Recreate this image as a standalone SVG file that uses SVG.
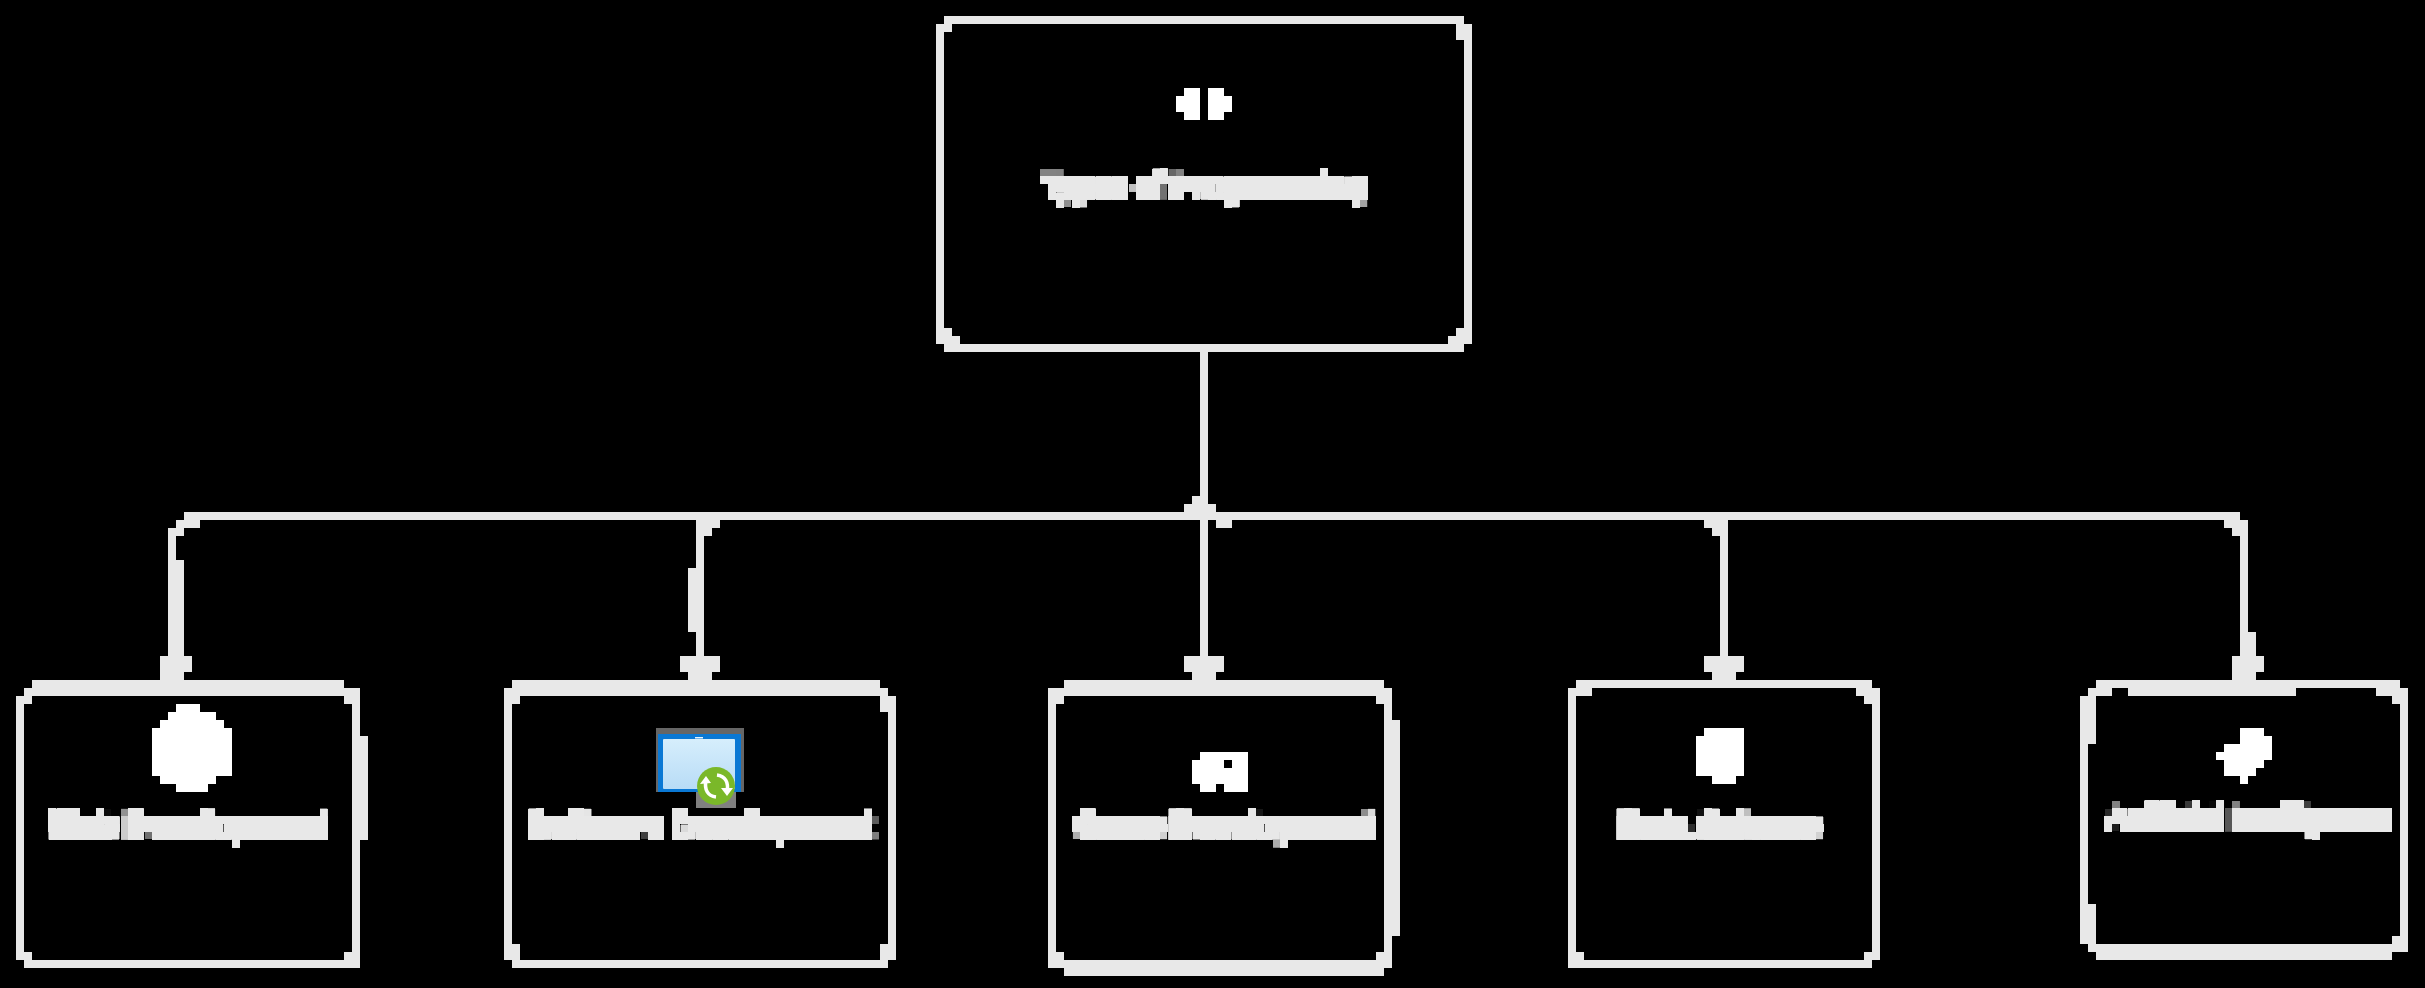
<svg xmlns="http://www.w3.org/2000/svg" width="2425" height="988" viewBox="0 0 2425 988">
<style>
.box,.blk{fill:#e8e8e8;shape-rendering:crispEdges}
.icon{fill:#fff;shape-rendering:crispEdges}
.wire{fill:none;stroke:#e8e8e8;stroke-width:8;shape-rendering:crispEdges}
.lbl{font-family:"Liberation Sans",Arial,sans-serif;font-weight:700;font-size:32px;fill:#e8e8e8;stroke:#e8e8e8;stroke-width:7px;stroke-linejoin:round;text-anchor:middle}
.labels{filter:url(#px)}
</style>
<defs>
<linearGradient id="pane" x1="0" y1="0" x2="0" y2="1"><stop offset="0" stop-color="#d6eefc"/><stop offset="1" stop-color="#b8dcf6"/></linearGradient>
<marker id="hA" markerUnits="userSpaceOnUse" markerWidth="40" markerHeight="24" refX="20" refY="24" orient="0"><path d="M0 0H40V16H32V24H8V16H0Z" fill="#e8e8e8" shape-rendering="crispEdges"/></marker>
<marker id="hB" markerUnits="userSpaceOnUse" markerWidth="32" markerHeight="24" refX="12" refY="24" orient="0"><path d="M0 0H32V16H24V24H0V16H0Z" fill="#e8e8e8" shape-rendering="crispEdges"/></marker>
<filter id="px" filterUnits="userSpaceOnUse" x="0" y="0" width="2425" height="988" primitiveUnits="userSpaceOnUse" color-interpolation-filters="sRGB">
<feFlood x="3" y="3" width="2" height="2" flood-color="#000" result="d"/>
<feComposite in="d" in2="d" x="0" y="0" width="8" height="8" result="c"/>
<feTile in="c" x="0" y="0" width="2425" height="988" result="t"/>
<feComposite in="SourceGraphic" in2="t" operator="in" result="s"/>
<feMorphology in="s" operator="dilate" radius="3"/>
</filter>
</defs>
<rect width="2425" height="988" fill="#000"/>
<g id="connectors">
<path class="wire" d="M172 532V680" marker-end="url(#hB)"/>
<path class="wire" d="M184 516H2240"/>
<path class="wire" d="M700 520V680" marker-end="url(#hA)"/>
<path class="wire" d="M1204 352V680" marker-end="url(#hA)"/>
<path class="wire" d="M1724 520V680" marker-end="url(#hA)"/>
<path class="wire" d="M2244 528V680" marker-end="url(#hB)"/>
<path class="blk" d="M176 520h24v8h-24zM168 528h16v8h-16zM176 560h8v96h-8zM696 520h24v8h-24zM696 528h16v8h-16zM688 568h8v64h-8zM1192 496h16v8h-16zM1184 504h32v8h-32zM1216 520h16v8h-16zM1704 520h24v8h-24zM1712 528h16v8h-16zM2224 520h24v8h-24zM2232 528h16v8h-16zM2248 632h8v24h-8z"/>
</g>
<g id="node-root">
<path class="box" d="M944 16H1464V24H944ZM936 24h8v320h-8zM1464 24h8v320h-8zM944 344H1464V352H944ZM944 24h8v8h-8zM1456 24h8v16h-8zM944 328h8v16h-8zM952 336h8v8h-8zM1456 328h8v16h-8zM1448 336h8v8h-8z"/>
<path class="icon" d="M1176 96h8v16h-8zM1184 88h16v32h-16zM1208 88h16v32h-16zM1224 96h8v16h-8z"/>
</g>
<g id="node-web">
<path class="box" d="M32 680H344V688H32ZM24 688H360V696H24ZM16 696h8v264h-8zM24 696h8v8h-8zM344 696h8v8h-8zM24 952h8v8h-8zM344 952h8v8h-8zM352 696h8v272h-8zM24 960H352V968H24ZM360 736h8v104h-8z"/>
<path class="icon" d="M176 704h24v8h-24zM168 712h48v8h-48zM160 720h64v8h-64zM152 728h80v48h-80zM160 776h56v8h-56zM176 784h32v8h-32z"/>
</g>
<g id="node-software">
<path class="box" d="M512 680H880V688H512ZM504 688H888V696H504ZM504 696h8v264h-8zM512 696h8v8h-8zM888 696h8v264h-8zM880 696h8v16h-8zM512 944h8v16h-8zM880 944h8v16h-8zM512 960H888V968H512Z"/>
<rect x="656" y="728" width="88" height="64" fill="#666"/>
<rect x="696" y="792" width="40" height="16" fill="#808080"/>
<rect x="658" y="734" width="83" height="58" fill="#0a78d4"/>
<rect x="663" y="739" width="72" height="50" rx="1" fill="url(#pane)"/>
<rect x="695" y="737" width="8" height="1.5" fill="#e6f4fd"/>
<circle cx="716" cy="786" r="19" fill="#7ab829"/>
<path d="M716 797C708 796 704 790 706 780M717 775C725 776 729 782 727 792" fill="none" stroke="#fff" stroke-width="3.5"/>
<path d="M700 784L706 776L711 783ZM721 788L727 796L733 788Z" fill="#fff"/>
</g>
<g id="node-game">
<path class="box" d="M1064 680H1384V688H1064ZM1048 688H1392V696H1048ZM1048 696h8v264h-8zM1056 696h8v8h-8zM1376 696h8v8h-8zM1056 952h8v8h-8zM1376 952h8v8h-8zM1384 696h8v264h-8zM1392 720h8v216h-8zM1048 960H1392V968H1048ZM1064 968H1384V976H1064Z"/>
<path class="icon" d="M1200 752h48v8h-48zM1192 760h32v8h-32zM1232 760h16v8h-16zM1192 768h56v16h-56zM1200 784h16v8h-16zM1224 784h24v8h-24z"/>
</g>
<g id="node-data">
<path class="box" d="M1576 680H1872V688H1576ZM1568 688h8v272h-8zM1576 688h16v8h-16zM1856 688h16v8h-16zM1864 696h8v8h-8zM1872 688h8v272h-8zM1568 960H1872V968H1568ZM1576 952h8v8h-8zM1864 952h8v8h-8z"/>
<path class="icon" d="M1704 728h40v8h-40zM1696 736h48v40h-48zM1712 776h24v8h-24z"/>
</g>
<g id="node-ai">
<path class="box" d="M2096 680H2400V688H2096ZM2088 688h24v8h-24zM2128 688H2296V696H2128ZM2376 688h32v8h-32zM2392 696h8v8h-8zM2400 696h8v248h-8zM2080 696h8v248h-8zM2088 696h8v48h-8zM2088 904h8v40h-8zM2088 944H2408V952H2088ZM2096 952H2392V960H2096ZM2392 936h8v8h-8z"/>
<path class="icon" d="M2240 728h24v8h-24zM2240 736h32v8h-32zM2224 744h48v8h-48zM2216 752h56v8h-56zM2224 760h40v8h-40zM2224 768h32v8h-32zM2240 776h8v8h-8z"/>
</g>
<g class="labels">
<text class="lbl" x="1204" y="196" style="font-size:30px">Types of Programming</text>
<text class="lbl" x="188" y="836">Web Development</text>
<text class="lbl" x="700" y="836">Software Development</text>
<text class="lbl" x="1224" y="836">Game Development</text>
<text class="lbl" x="1720" y="836">Data Science</text>
<text class="lbl" x="2248" y="828" style="font-size:29px">Artificial Intelligence</text>
</g>
</svg>
